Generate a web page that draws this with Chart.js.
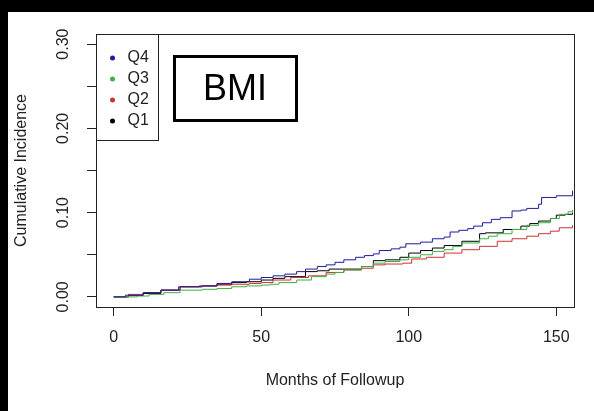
<!DOCTYPE html>
<html>
<head>
<meta charset="utf-8">
<script src="https://cdn.jsdelivr.net/npm/chart.js@4.4.0/dist/chart.umd.min.js"></script>
<style>
  body { margin: 0; background: #fff; }
  #wrap { width: 594px; height: 411px; box-sizing: border-box; border-top: 12px solid #000; border-left: 8px solid #000; background: #fff; }
  canvas { display: block; }
</style>
</head>
<body>
<div id="wrap"><canvas id="myChart" width="586" height="399"></canvas></div>
<script>
// series (months, cumulative incidence)
const labels = ["Q4", "Q3", "Q2", "Q1"];
const colores = ["#1c1c9c", "#3cb043", "#d03030", "#000000"];

const timesQ4 = [0, 4, 10, 16, 22, 29, 35, 40, 46, 50, 54, 58, 62, 65, 69, 72, 75, 78, 82, 85, 88, 90, 94, 97, 99, 104, 108, 112, 114, 117, 120, 122, 125, 128, 131, 135, 138, 140, 144, 145, 150, 155.5];
const valuesQ4 = [0, 0.002, 0.005, 0.008, 0.012, 0.013, 0.016, 0.018, 0.021, 0.023, 0.025, 0.027, 0.030, 0.033, 0.036, 0.038, 0.041, 0.044, 0.047, 0.049, 0.051, 0.055, 0.057, 0.059, 0.063, 0.065, 0.069, 0.071, 0.077, 0.079, 0.081, 0.084, 0.088, 0.092, 0.094, 0.102, 0.103, 0.105, 0.110, 0.118, 0.120, 0.126];

const timesQ3 = [0, 8, 12, 17, 22.5, 30, 35, 40, 45, 50, 53, 56, 62, 67, 72, 75, 78, 84, 88, 92, 97, 100, 104, 108, 112, 115, 118, 124, 127, 130, 135, 140, 144, 148, 151, 154, 155.5];
const valuesQ3 = [0, 0.001, 0.003, 0.005, 0.008, 0.009, 0.010, 0.012, 0.013, 0.014, 0.015, 0.017, 0.020, 0.024, 0.027, 0.029, 0.032, 0.036, 0.040, 0.042, 0.044, 0.047, 0.050, 0.054, 0.056, 0.060, 0.064, 0.069, 0.072, 0.075, 0.080, 0.085, 0.088, 0.093, 0.098, 0.101, 0.103];

const timesQ2 = [0, 5, 10, 16, 22.5, 30, 35, 40, 46, 50, 54, 60, 66, 72, 78, 84, 88, 92, 98, 101, 106, 112, 118, 124, 130, 135, 140, 144, 148, 151, 155.5];
const valuesQ2 = [0, 0.003, 0.005, 0.008, 0.012, 0.013, 0.014, 0.015, 0.016, 0.017, 0.020, 0.023, 0.025, 0.029, 0.032, 0.034, 0.038, 0.039, 0.040, 0.045, 0.047, 0.052, 0.056, 0.060, 0.066, 0.069, 0.072, 0.075, 0.078, 0.082, 0.085];

const timesQ1 = [0, 5, 10, 16, 22.5, 30, 35, 40, 45, 50, 54, 58, 65, 69, 73, 78, 84, 88, 92, 97, 100, 104, 108, 112, 118, 124, 126, 132, 138, 141, 144, 148, 150, 153, 155.5];
const valuesQ1 = [0, 0.002, 0.004, 0.008, 0.012, 0.013, 0.015, 0.017, 0.018, 0.020, 0.022, 0.024, 0.030, 0.031, 0.033, 0.033, 0.036, 0.043, 0.044, 0.047, 0.052, 0.055, 0.058, 0.061, 0.066, 0.075, 0.076, 0.080, 0.084, 0.087, 0.090, 0.093, 0.097, 0.098, 0.100];

const xTicks = [0, 50, 100, 150];
const yTicks = [0, 0.05, 0.10, 0.15, 0.20, 0.25, 0.30];
const yTickLabels = ["0.00", "", "0.10", "", "0.20", "", "0.30"];

const fuente = "'Liberation Sans', Arial, sans-serif";
const gris = "#222";

function serie(times, values) {
  return times.map((t, i) => ({ x: t, y: values[i] }));
}

const series = [serie(timesQ4, valuesQ4), serie(timesQ3, valuesQ3), serie(timesQ2, valuesQ2), serie(timesQ1, valuesQ1)];

const dibujo = {
  id: "dibujo",
  afterDraw(chart) {
    const ctx = chart.ctx;
    const a = chart.chartArea;
    const sx = chart.scales.x;
    const sy = chart.scales.y;
    ctx.save();
    // plot box
    ctx.strokeStyle = gris;
    ctx.lineWidth = 1;
    ctx.strokeRect(Math.round(a.left) + 0.5, Math.round(a.top) + 0.5, Math.round(a.right - a.left), Math.round(a.bottom - a.top));

    ctx.fillStyle = gris;
    ctx.font = "16px " + fuente;
    ctx.textAlign = "center";
    ctx.textBaseline = "middle";
    // x tick labels
    xTicks.forEach(v => ctx.fillText(String(v), sx.getPixelForValue(v), 326));
    // y tick labels, rotated
    yTicks.forEach((v, i) => {
      if (!yTickLabels[i]) return;
      ctx.save();
      ctx.translate(56, sy.getPixelForValue(v));
      ctx.rotate(-Math.PI / 2);
      ctx.fillText(yTickLabels[i], 0, 0);
      ctx.restore();
    });
    // axis titles
    ctx.fillText("Months of Followup", (a.left + a.right) / 2, 369);
    ctx.save();
    ctx.translate(14, (a.top + a.bottom) / 2);
    ctx.rotate(-Math.PI / 2);
    ctx.fillText("Cumulative Incidence", 0, 0);
    ctx.restore();

    // legend
    const lx = Math.round(a.left) + 0.5, ly = Math.round(a.top) + 0.5;
    ctx.fillStyle = "#fff";
    ctx.fillRect(lx, ly, 62, 106);
    ctx.strokeStyle = gris;
    ctx.strokeRect(lx, ly, 62, 106);
    ctx.textAlign = "left";
    labels.forEach((l, i) => {
      const y = 46 + i * 21;
      ctx.fillStyle = colores[i];
      ctx.beginPath();
      ctx.arc(lx + 16, y, 2.5, 0, Math.PI * 2);
      ctx.fill();
      ctx.fillStyle = gris;
      ctx.fillText(l, lx + 31, y);
    });

    // BMI box
    ctx.strokeStyle = "#000";
    ctx.lineWidth = 3;
    ctx.strokeRect(166.5, 44.5, 122, 64);
    ctx.fillStyle = "#000";
    ctx.textAlign = "center";
    ctx.font = "36px " + fuente;
    ctx.fillText("BMI", 227, 78);
    ctx.restore();
  }
};

const ctx = document.getElementById("myChart");
const myChart = new Chart(ctx, {
  type: "line",
  data: {
    datasets: labels.map((l, i) => ({
      label: l,
      data: series[i],
      borderColor: colores[i],
      borderWidth: 1,
      pointRadius: 0,
      stepped: true,
      fill: false,
    })),
  },
  options: {
    responsive: false,
    animation: false,
    layout: { padding: { top: 22, right: 20, left: 0, bottom: 0 } },
    plugins: { legend: { display: false }, tooltip: { enabled: false } },
    scales: {
      x: {
        type: "linear",
        min: -6,
        max: 156,
        afterBuildTicks: (s) => { s.ticks = xTicks.map(v => ({ value: v })); },
        afterFit: (s) => { s.height = 104; },
        ticks: { display: false },
        grid: { drawOnChartArea: false, drawTicks: true, tickLength: 9, color: gris },
        border: { display: false },
      },
      y: {
        min: -0.012,
        max: 0.312,
        afterBuildTicks: (s) => { s.ticks = yTicks.map(v => ({ value: v })); },
        afterFit: (s) => { s.width = 88; },
        ticks: { display: false },
        grid: { drawOnChartArea: false, drawTicks: true, tickLength: 9, color: gris },
        border: { display: false },
      },
    },
  },
  plugins: [dibujo],
});
</script>
</body>
</html>
